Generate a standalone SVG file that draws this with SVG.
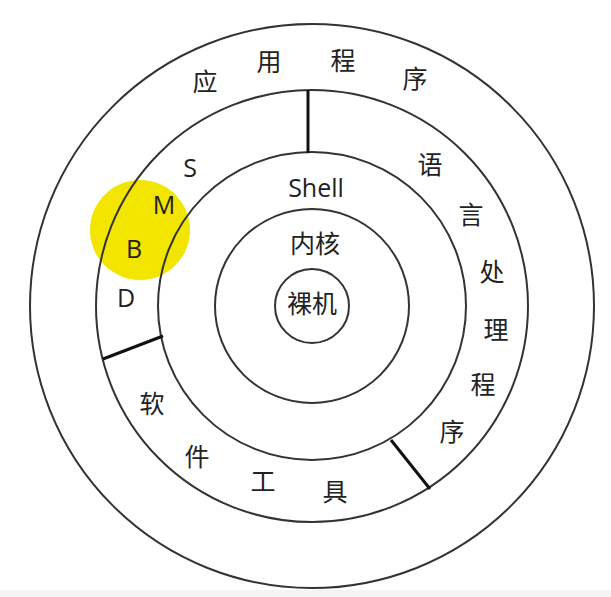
<svg xmlns="http://www.w3.org/2000/svg" width="611" height="597" viewBox="0 0 611 597">
  <style>
    .ring { fill: none; stroke: #333; stroke-width: 2; }
    .div { stroke: #111; stroke-width: 3; stroke-linecap: butt; }
    .cjk { font-family: "Noto Sans CJK SC", "Noto Sans", sans-serif; font-size: 25px; fill: #222; text-anchor: middle; dominant-baseline: central; }
    .lat { font-family: "Open Sans", "Noto Sans", sans-serif; font-size: 25px; fill: #222; text-anchor: middle; dominant-baseline: central; }
  </style>
  <rect x="0" y="0" width="611" height="597" fill="#ffffff"/>
  <rect x="0" y="590" width="611" height="7" fill="#f3f3f3"/>
  <g id="highlight">
    <circle cx="140" cy="230" r="50" fill="#f2e600"/>
  </g>
  <g id="rings">
    <circle id="outer" class="ring" cx="312" cy="306" r="282"/>
    <circle id="ring2" class="ring" cx="312" cy="306" r="216"/>
    <circle id="ring3" class="ring" cx="312" cy="306" r="154"/>
    <circle id="ring4" class="ring" cx="312" cy="306" r="97"/>
    <circle id="core" class="ring" cx="312" cy="306" r="37"/>
  </g>
  <g id="connectors">
    <line class="div" x1="308" y1="90" x2="308" y2="153"/>
    <line class="div" x1="103" y1="359" x2="163" y2="336"/>
    <line class="div" x1="391" y1="440" x2="430" y2="489"/>
  </g>
  <g id="app-label">
    <text class="cjk" x="205" y="80">应</text>
    <text class="cjk" x="269" y="60">用</text>
    <text class="cjk" x="343" y="59">程</text>
    <text class="cjk" x="415" y="77">序</text>
  </g>
  <g id="dbms-label">
    <text class="lat" x="190" y="167">S</text>
    <text class="lat" x="164" y="204">M</text>
    <text class="lat" x="134" y="248">B</text>
    <text class="lat" x="126" y="297">D</text>
  </g>
  <g id="lang-label">
    <text class="cjk" x="430" y="163">语</text>
    <text class="cjk" x="471" y="213">言</text>
    <text class="cjk" x="492" y="270">处</text>
    <text class="cjk" x="496" y="328">理</text>
    <text class="cjk" x="483" y="383">程</text>
    <text class="cjk" x="452" y="430">序</text>
  </g>
  <g id="tools-label">
    <text class="cjk" x="152" y="402">软</text>
    <text class="cjk" x="197" y="455">件</text>
    <text class="cjk" x="263" y="480">工</text>
    <text class="cjk" x="335" y="490">具</text>
  </g>
  <g id="shell">
    <text class="lat" x="316" y="187">Shell</text>
  </g>
  <g id="kernel">
    <text class="cjk" x="315" y="242">内核</text>
  </g>
  <g id="hardware">
    <text class="cjk" x="312" y="302">裸机</text>
  </g>
</svg>
